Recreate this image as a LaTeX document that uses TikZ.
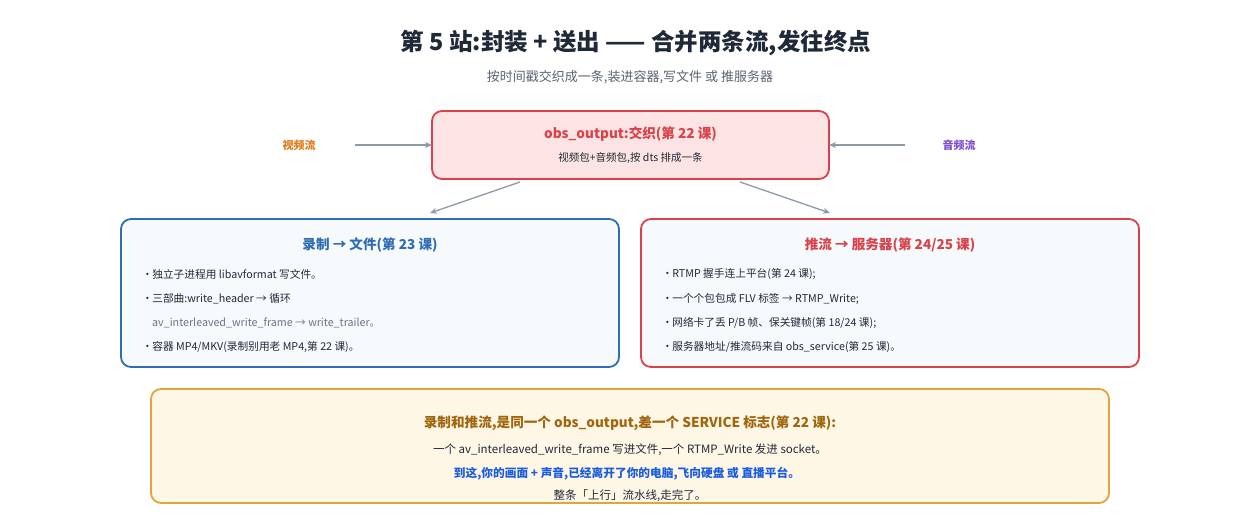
\documentclass[tikz,border=0pt]{standalone}
\usepackage{fontspec}
\setmainfont{Noto Sans CJK SC}
\usetikzlibrary{arrows.meta}
\definecolor{ink}{HTML}{1F2937}
\definecolor{sub}{HTML}{5B6472}
\definecolor{red1}{HTML}{D9424A}
\definecolor{pink1}{HTML}{FDE4E4}
\definecolor{blue1}{HTML}{2F6DB5}
\definecolor{bfill}{HTML}{F7FAFD}
\definecolor{gold}{HTML}{E0A63A}
\definecolor{gfill}{HTML}{FFF7E6}
\definecolor{brown1}{HTML}{A0660E}
\definecolor{blue2}{HTML}{1A5CE0}
\definecolor{arr}{HTML}{8E99A8}
\definecolor{orange1}{HTML}{E07B1A}
\definecolor{purple1}{HTML}{7B4FD0}
\definecolor{gline}{HTML}{6B7280}
\newcommand{\bdot}{\kern-3pt·\kern-3pt\ }
\begin{document}
\begin{tikzpicture}[x=1pt,y=-1pt,
  box/.style={rounded corners=10pt,line width=1.8pt},
  con/.style={draw=arr,line width=1.3pt,-{Stealth[length=7pt,width=6pt]}},
  ln/.style={anchor=west,font=\fontsize{10.7}{12}\selectfont,text=ink,inner sep=0pt},
  ttl/.style={font=\fontsize{13.6}{15}\selectfont\bfseries,inner sep=0pt}]
\useasboundingbox[fill=white] (0,0) rectangle (1260,520);
\node[font=\fontsize{23.5}{27}\selectfont\bfseries,text=ink] (title) at (636,43) {第 5 站:封装 + 送出 —— 合并两条流,发往终点};
\node[font=\fontsize{13}{15}\selectfont,text=sub] (subt) at (630,77) {按时间戳交织成一条,装进容器,写文件 或 推服务器};
\draw[box,draw=red1,fill=pink1] (432,111) rectangle (829,179);
\node[ttl,text=red1] (out) at (630.5,134) {obs\_output:交织(第 22 课)};
\node[inner sep=0pt,font=\fontsize{10.5}{12}\selectfont,text=ink] (outs) at (630.5,158) {视频包+音频包,按 dts 排成一条};
\coordinate (outL) at (432,145); \coordinate (outR) at (829,145);
\node[font=\fontsize{11}{13}\selectfont\bfseries,text=orange1] (vid) at (299,145) {视频流};
\node[font=\fontsize{11}{13}\selectfont\bfseries,text=purple1] (aud) at (959,145) {音频流};
\coordinate (vs) at (355,145); \coordinate (as) at (905,145);
\draw[con] (vs) -- (outL);
\draw[con] (as) -- (outR);
\draw[box,draw=blue1,fill=bfill] (121,219) rectangle (619,367);
\draw[box,draw=red1,fill=bfill] (641,219) rectangle (1139,367);
\coordinate (o1) at (520,182); \coordinate (l1) at (430,213);
\coordinate (o2) at (740,182); \coordinate (r1) at (830,213);
\draw[con] (o1) -- (l1);
\draw[con] (o2) -- (r1);
\node[ttl,text=blue1] (lt) at (370,245) {录制 → 文件(第 23 课)};
\node[ln] (l1a) at (145,274) {\bdot 独立子进程用 libavformat 写文件。};
\node[ln] (l1b) at (145,299) {\bdot 三部曲:write\_header → 循环};
\node[ln,text=gline] (l1c) at (152,323) {av\_interleaved\_write\_frame → write\_trailer。};
\node[ln] (l1d) at (145,347) {\bdot 容器 MP4/MKV(录制别用老 MP4,第 22 课)。};
\node[ttl,text=red1] (rt) at (890,245) {推流 → 服务器(第 24/25 课)};
\node[ln] (r1a) at (665,274) {\bdot RTMP 握手连上平台(第 24 课);};
\node[ln] (r1b) at (665,299) {\bdot 一个个包包成 FLV 标签 → RTMP\_Write;};
\node[ln] (r1c) at (665,323) {\bdot 网络卡了丢 P/B 帧、保关键帧(第 18/24 课);};
\node[ln] (r1d) at (665,347) {\bdot 服务器地址/推流码来自 obs\_service(第 25 课)。};
\draw[box,draw=gold,fill=gfill] (151,389) rectangle (1109,503);
\node[ttl,text=brown1] (b1) at (630,423) {录制和推流,是同一个 obs\_output,差一个 SERVICE 标志(第 22 课):};
\node[inner sep=0pt,font=\fontsize{11.5}{13}\selectfont,text=ink] (b2) at (630,450) {一个 av\_interleaved\_write\_frame 写进文件,一个 RTMP\_Write 发进 socket。};
\node[inner sep=0pt,font=\fontsize{11.7}{13}\selectfont\bfseries,text=blue2] (b3) at (627,474) {到这,你的画面 + 声音,已经离开了你的电脑,飞向硬盘 或 直播平台。};
\node[inner sep=0pt,font=\fontsize{11.5}{13}\selectfont,text=ink] (b4) at (630,496) {整条「上行」流水线,走完了。};
\end{tikzpicture}
\end{document}
